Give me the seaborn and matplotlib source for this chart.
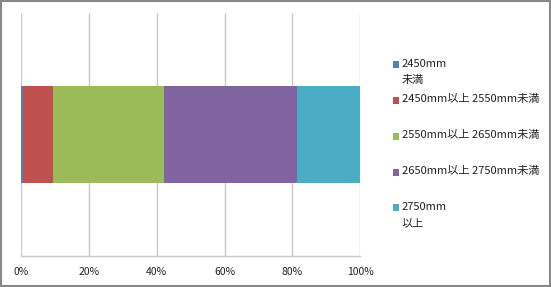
import matplotlib
matplotlib.use("Agg")
import matplotlib.pyplot as plt
import seaborn as sns
import pandas as pd
import numpy as np
from matplotlib.patches import Rectangle

sns.set_theme(style="white")
plt.rcParams['font.family'] = ['Noto Sans CJK JP', 'DejaVu Sans']

categories = ["2450mm\n未満", "2450mm以上 2550mm未満", "2550mm以上 2650mm未満",
              "2650mm以上 2750mm未満", "2750mm\n以上"]
values = [0.7, 8.7, 32.6, 39.2, 18.8]
colors = ["#4F81BD", "#C0504D", "#9BBB59", "#8064A2", "#4BACC6"]
tick_vals = [0, 20, 40, 60, 80, 100]
tick_labels = ["0%", "20%", "40%", "60%", "80%", "100%"]

cum = np.cumsum(values)
df = pd.DataFrame({"series": categories, "cum": cum, "row": ["r"] * len(categories)})

fig = plt.figure(figsize=(5.51, 2.87), dpi=100)
ax = fig.add_axes([21 / 551, 1 - 256 / 287, (360.3 - 21) / 551, (256 - 13) / 287])

for i in range(len(categories) - 1, -1, -1):
    sns.barplot(data=df.iloc[[i]], x="cum", y="row", color=colors[i], width=0.4,
                orient="h", ax=ax, saturation=1, linewidth=0)

ax.set_xlim(0, 100)
ax.set_ylim(0.5, -0.5)
ax.set_xticks(tick_vals)
ax.set_xticklabels(tick_labels, fontsize=7.5, color="#222222")
ax.set_yticks([])
ax.set_xlabel("")
ax.set_ylabel("")
ax.tick_params(axis="x", length=0, pad=8)
ax.set_axisbelow(True)
ax.grid(axis="x", color="#C8C8C8", linewidth=1)
for s in ["top", "right", "left"]:
    ax.spines[s].set_visible(False)
ax.spines["bottom"].set_color("#C8C8C8")
ax.spines["bottom"].set_linewidth(1)

# legend
ys = [64, 100, 136, 172, 207]
for lab, col, y in zip(categories, colors, ys):
    fig.patches.append(Rectangle((393 / 551, 1 - (y + 3.5) / 287), 6.5 / 551, 6.5 / 287,
                                 transform=fig.transFigure, facecolor=col, edgecolor="none"))
    n_lines = lab.count("\n") + 1
    off = 5.0 if n_lines > 1 else 6.5
    fig.text(402 / 551, 1 - (y - off) / 287, lab, fontsize=8, color="#222222",
             va="top", ha="left", linespacing=1.75)

# figure border
fig.patches.append(Rectangle((0.001, 0.002), 0.997, 0.995, transform=fig.transFigure,
                             fill=False, edgecolor="#888888", linewidth=1.5))

fig.savefig("out.png", dpi=100)
